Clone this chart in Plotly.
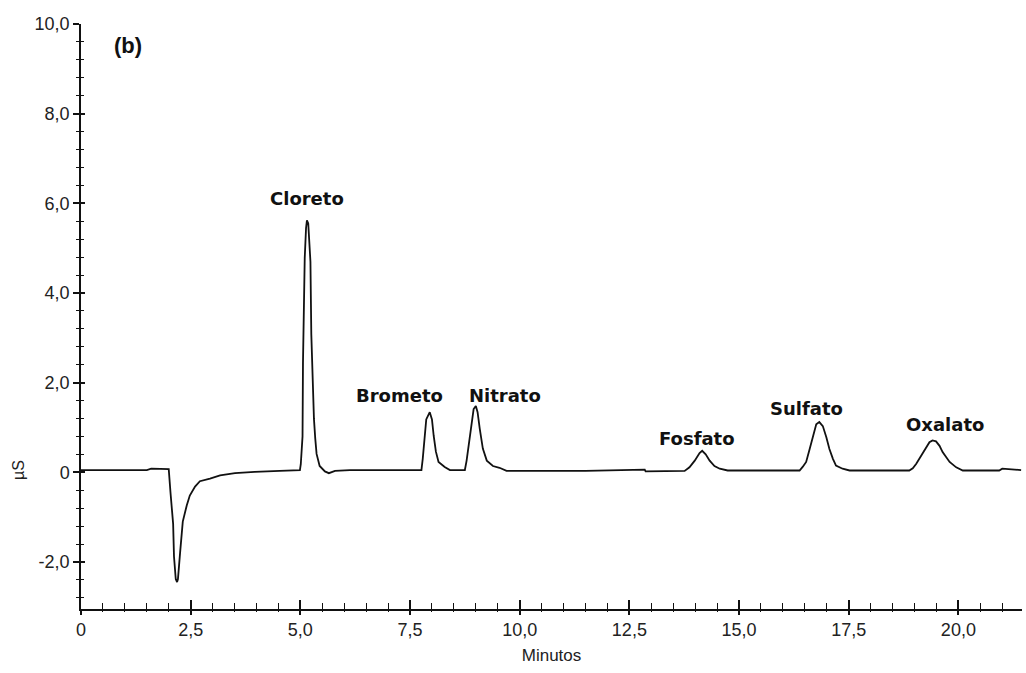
import plotly.graph_objects as go

# Retention time (min) and conductivity (µS) of the anion chromatogram
tempo = [0.00, 1.00, 1.50, 1.60, 2.00, 2.04, 2.10, 2.12, 2.16, 2.19, 2.21, 2.26, 2.32,
         2.41, 2.48, 2.60, 2.71, 2.94, 3.17, 3.51, 3.96, 4.53, 4.99,
         5.01, 5.05, 5.06, 5.10, 5.13, 5.15, 5.18, 5.23, 5.25, 5.28, 5.31, 5.34,
         5.37, 5.44, 5.56, 5.65, 5.79, 6.13, 7.00,
         7.76, 7.79, 7.84, 7.87, 7.95, 8.00, 8.04, 8.09, 8.15, 8.29, 8.41, 8.75,
         8.79, 8.86, 8.91, 8.95, 9.00, 9.04, 9.09, 9.16, 9.25, 9.39, 9.54, 9.70,
         10.00, 11.50, 12.85, 12.87, 13.76,
         13.87, 13.99, 14.10, 14.16, 14.24, 14.33, 14.44, 14.56, 14.74, 15.47,
         16.15, 16.38, 16.45, 16.53, 16.61, 16.68, 16.76, 16.83, 16.91, 16.99,
         17.06, 17.14, 17.21, 17.36, 17.52, 18.88,
         18.96, 19.04, 19.11, 19.19, 19.26, 19.34, 19.41, 19.49, 19.57, 19.64,
         19.72, 19.80, 19.95, 20.10, 20.93, 21.00, 21.43]
condutividade = [0.05, 0.05, 0.05, 0.08, 0.07, -0.45, -1.15, -1.88, -2.38, -2.45, -2.38, -1.78, -1.10,
                 -0.74, -0.52, -0.32, -0.20, -0.14, -0.07, -0.02, 0.01, 0.03, 0.05,
                 0.18, 0.80, 2.45, 4.78, 5.45, 5.62, 5.55, 4.70, 3.08, 1.97, 1.19, 0.75,
                 0.41, 0.14, 0.02, -0.02, 0.03, 0.05, 0.05,
                 0.05, 0.30, 0.90, 1.18, 1.34, 1.18, 0.81, 0.46, 0.23, 0.12, 0.05, 0.05,
                 0.26, 0.81, 1.12, 1.41, 1.48, 1.34, 0.97, 0.53, 0.26, 0.14, 0.10, 0.03,
                 0.03, 0.03, 0.06, 0.02, 0.03,
                 0.11, 0.26, 0.43, 0.48, 0.40, 0.26, 0.14, 0.08, 0.04, 0.04,
                 0.04, 0.04, 0.12, 0.23, 0.52, 0.81, 1.07, 1.12, 1.03, 0.78,
                 0.52, 0.30, 0.15, 0.08, 0.04, 0.04,
                 0.09, 0.19, 0.30, 0.44, 0.55, 0.67, 0.71, 0.69, 0.59, 0.45,
                 0.34, 0.23, 0.11, 0.04, 0.04, 0.08, 0.05]

# Peak identification labels and where they sit
ions = ["Cloreto", "Brometo", "Nitrato", "Fosfato", "Sulfato", "Oxalato"]
ion_x = [5.15, 7.27, 9.66, 14.04, 16.53, 19.70]
ion_y = [6.11, 1.71, 1.71, 0.76, 1.43, 1.07]

# Axis ticks (decimal comma)
x_ticks = [0, 2.5, 5.0, 7.5, 10.0, 12.5, 15.0, 17.5, 20.0]
x_labels = ["0", "2,5", "5,0", "7,5", "10,0", "12,5", "15,0", "17,5", "20,0"]
y_ticks = [-2, 0, 2, 4, 6, 8, 10]
y_labels = ["-2,0", "0", "2,0", "4,0", "6,0", "8,0", "10,0"]

X_RANGE = [0, 21.45]
Y_RANGE = [-3.05, 10.0]
TICK_FONT = dict(family="Liberation Sans, Arial", size=18, color="#222")

fig = go.Figure()
fig.add_trace(go.Scatter(x=tempo, y=condutividade, mode="lines",
                         line=dict(color="#111111", width=1.8), hoverinfo="skip",
                         showlegend=False))
# empty trace that registers the overlay axes used for the inner tick halves
fig.add_trace(go.Scatter(x=[None], y=[None], xaxis="x2", yaxis="y2", mode="lines",
                         hoverinfo="skip", showlegend=False))

for nome, xi, yi in zip(ions, ion_x, ion_y):
    fig.add_annotation(x=xi, y=yi, text=f"<b>{nome}</b>", showarrow=False,
                       xanchor="center", yanchor="middle",
                       font=dict(family="DejaVu Sans", size=18, color="#111"))

fig.add_annotation(xref="paper", yref="paper", x=0.05, y=0.964, text="<b>(b)</b>",
                   xanchor="center", yanchor="middle", showarrow=False,
                   font=dict(family="Liberation Sans, Arial", size=22, color="#111"))
fig.add_annotation(xref="paper", yref="y", x=-0.067, y=0.05, text="µS", textangle=-90,
                   xanchor="center", yanchor="middle", showarrow=False,
                   font=dict(family="Liberation Sans, Arial", size=16, color="#222"))

axis_common = dict(showgrid=False, zeroline=False, ticks="outside", tickcolor="#111",
                   tickwidth=1.5)

fig.update_layout(
    width=1026, height=673,
    margin=dict(l=81, r=4, t=24, b=64),
    paper_bgcolor="white", plot_bgcolor="white",
    xaxis=dict(**axis_common, range=X_RANGE, tickvals=x_ticks, ticktext=x_labels,
               ticklen=4, tickfont=TICK_FONT, showline=True, linecolor="#111", linewidth=1.5,
               minor=dict(dtick=0.5, tick0=0, ticks="outside", ticklen=1, tickcolor="#111", tickwidth=1.3),
               title=dict(text="Minutos", font=dict(family="Liberation Sans, Arial", size=17, color="#222"),
                          standoff=10)),
    yaxis=dict(**axis_common, range=Y_RANGE, tickvals=y_ticks, ticktext=y_labels,
               ticklen=6, tickfont=TICK_FONT, showline=True, linecolor="#111", linewidth=1.5,
               minor=dict(dtick=0.4, tick0=0, ticks="outside", ticklen=3, tickcolor="#111", tickwidth=1.3)),
    # overlay axes carry the inner halves of the crossing ticks
    xaxis2=dict(overlaying="x", anchor="y2", range=X_RANGE, showgrid=False, zeroline=False,
                showticklabels=False, tickvals=x_ticks, ticks="inside", ticklen=9,
                tickcolor="#111", tickwidth=1.5, side="bottom", showline=False,
                minor=dict(dtick=0.5, tick0=0, ticks="inside", ticklen=6, tickcolor="#111", tickwidth=1.3)),
    yaxis2=dict(overlaying="y", anchor="x2", range=Y_RANGE, showgrid=False, zeroline=False,
                showticklabels=False, tickvals=y_ticks, ticks="inside", ticklen=4,
                tickcolor="#111", tickwidth=1.5, side="left", showline=False,
                minor=dict(dtick=0.4, tick0=0, ticks="inside", ticklen=3, tickcolor="#111", tickwidth=1.3)),
)

fig.write_html("out.html")
